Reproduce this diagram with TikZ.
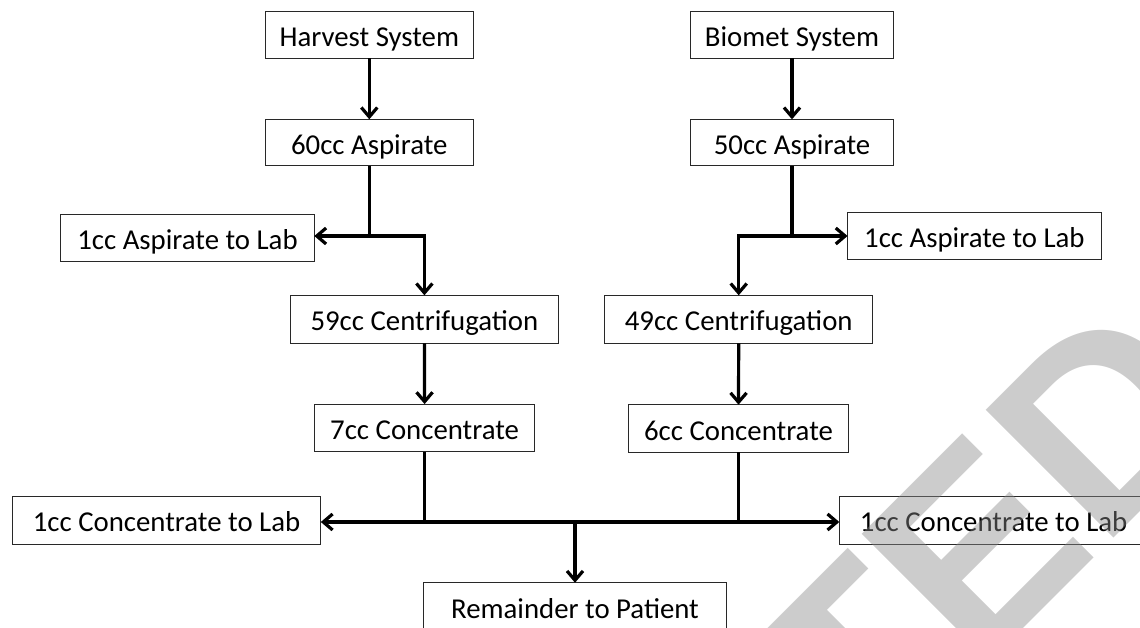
\documentclass[tikz,border=0pt]{standalone}
\usepackage{fontspec}
\setmainfont{Carlito}
\newfontfamily\wmfont{Liberation Sans}
\usetikzlibrary{arrows.meta}
\definecolor{boxline}{RGB}{40,40,40}
\definecolor{wmgray}{RGB}{138,138,138}
\begin{document}
\begin{tikzpicture}[x=0.75pt,y=-0.75pt,
  box/.style 2 args={draw=boxline, line width=0.8pt, fill=white, inner sep=0pt, outer sep=0pt,
    minimum width=#1*0.75pt, minimum height=#2*0.75pt,
    font=\fontsize{21.6}{26}\selectfont, text height=20.1pt, text depth=2.6pt},
  conn/.style={line width=2.4pt, draw=black},
  tip/.style={-{Straight Barb[length=7pt,width=12pt]}},
  arr/.style={conn, tip},
  wm/.style={text=wmgray, text opacity=0.435, inner sep=0pt,
    font=\wmfont\bfseries\fontsize{197}{197}\selectfont}
]
\useasboundingbox (0,0) rectangle (1140,628);

% boxes
\node[box={207.8}{46.6}] (harvest) at (369.3,35) {Harvest System};
\node[box={202.7}{46.6}] (biomet)  at (792,35)   {Biomet System};
\node[box={207.8}{46.4}] (asp60)   at (369.3,142.5) {60cc Aspirate};
\node[box={202.7}{46.4}] (asp50)   at (792,142.5)   {50cc Aspirate};
\node[box={253.6}{46.7}] (labLa)   at (187.5,237.7) {1cc Aspirate to Lab};
\node[box={253.7}{46.7}] (labRa)   at (974.4,235.7) {1cc Aspirate to Lab};
\node[box={267.9}{48}]   (cen59)   at (424.4,319.3) {59cc Centrifugation};
\node[box={267.8}{48}]   (cen49)   at (738.7,319.3) {49cc Centrifugation};
\node[box={220.1}{47.7}] (con7)    at (424.6,427.9) {7cc Concentrate};
\node[box={220.2}{47.7}] (con6)    at (738.5,428.5) {6cc Concentrate};
\node[box={308.6}{48}]   (labLb)   at (166.5,520.3) {1cc Concentrate to Lab};
\node[box={308.6}{48}]   (labRb)   at (993.6,520.3) {1cc Concentrate to Lab};
\node[box={302.9}{47.5}] (rem)     at (575,606.5)   {Remainder to Patient};

% junctions
\coordinate (j1) at (369.3,236);
\coordinate (j2) at (792,236);
\coordinate (j3) at (424.6,522);
\coordinate (j4) at (738.5,522);
\coordinate (jm) at (575,522);

% connectors
\draw[arr] (harvest.south) -- (asp60.north);
\draw[arr] (biomet.south) -- (asp50.north);

\draw[conn] (asp60.south) -- (j1);
\draw[arr] (j1) -- (j1 -| labLa.east);
\draw[arr] (j1) -| (cen59.north);

\draw[conn] (asp50.south) -- (j2);
\draw[arr] (j2) -- (j2 -| labRa.west);
\draw[arr] (j2) -| (cen49.north);

\draw[arr] (cen59.south) -- (con7.north);
\draw[arr] (cen49.south) -- (con6.north);

\draw[conn] (con7.south) -- (j3);
\draw[conn] (con6.south) -- (j4);
\draw[conn, {Straight Barb[length=7pt,width=12pt]}-{Straight Barb[length=7pt,width=12pt]}]
  (j3 -| labLb.east) -- (j4 -| labRb.west);
\draw[arr] (jm) -- (rem.north);

% watermark
\node[wm, rotate=45, anchor=base east] (mark) at (1236.2,415.8) {RETRACTED};
\end{tikzpicture}
\end{document}
